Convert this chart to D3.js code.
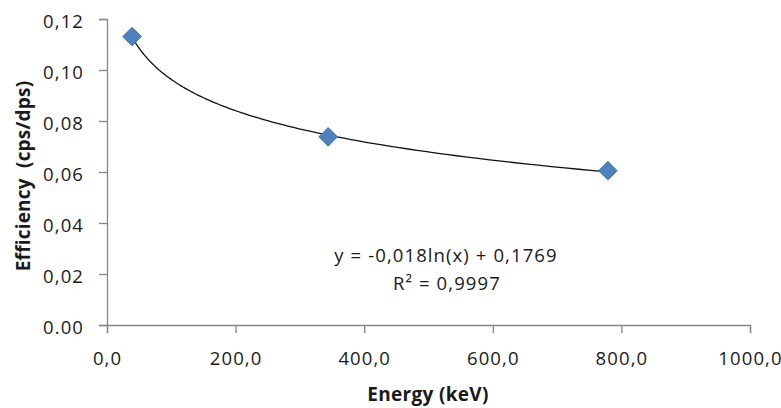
<!DOCTYPE html>
<html lang="en">
<head>
    <meta charset="UTF-8">
    <title>Efficiency vs Energy</title>
    <script src="https://cdn.jsdelivr.net/npm/d3@7"></script>
    <style>
        body { margin: 0; background: #fff; }
        text { font-family: "Open Sans", sans-serif; fill: #1a1a1a; }
    </style>
</head>
<body>
<svg width="781" height="408"></svg>
<script>
    // measured points (keV, cps/dps)
    const energy = [39, 344, 779]
    const efficiency = [0.1131, 0.0738, 0.0605]

    const xTicks = [0, 200, 400, 600, 800, 1000]
    const xTickLabels = ["0,0", "200,0", "400,0", "600,0", "800,0", "1000,0"]
    const yTicks = [0, 0.02, 0.04, 0.06, 0.08, 0.10, 0.12]
    const yTickLabels = ["0.00", "0,02", "0,04", "0,06", "0,08", "0,10", "0,12"]

    const eqLabel = "y = -0,018ln(x) + 0,1769"
    const r2Label = "R² = 0,9997"

    const svg = d3.select("svg")
    const plotLeft = 107, plotRight = 750, plotTop = 19, plotBottom = 325
    const axisColor = "#868686"
    const labelSize = 18.5, titleSize = 19

    const x = d3.scaleLinear().domain([0, 1000]).range([plotLeft, plotRight])
    const y = d3.scaleLinear().domain([0, 0.12]).range([plotBottom, plotTop])

    // y axis
    const yAxis = svg.append("g")
        .attr("transform", `translate(${plotLeft},0)`)
        .call(d3.axisLeft(y).tickValues(yTicks).tickSize(8).tickPadding(15)
            .tickFormat((d, i) => yTickLabels[i]))
    yAxis.selectAll(".tick text").attr("dy", "0.46em")
    // x axis
    const xAxis = svg.append("g")
        .attr("transform", `translate(0,${plotBottom})`)
        .call(d3.axisBottom(x).tickValues(xTicks).tickSize(8).tickPadding(19)
            .tickFormat((d, i) => xTickLabels[i]))

    for (const g of [xAxis, yAxis]) {
        g.select(".domain").attr("stroke", axisColor).attr("stroke-width", 1.3)
        g.selectAll(".tick line").attr("stroke", axisColor).attr("stroke-width", 1.3)
        g.selectAll(".tick text")
            .attr("font-size", labelSize)
            .attr("font-family", "Open Sans")
            .attr("letter-spacing", 1.1)
            .attr("fill", "#1a1a1a")
    }

    // log trendline fitted by least squares (like the spreadsheet trendline)
    const lx = energy.map(Math.log)
    const mx = d3.mean(lx), my = d3.mean(efficiency)
    const slope = d3.sum(lx, (v, i) => (v - mx) * (efficiency[i] - my)) / d3.sum(lx, v => (v - mx) ** 2)
    const icpt = my - slope * mx
    const [x0, x1] = d3.extent(energy)
    const curve = d3.range(0, 101).map(k => {
        const e = x0 * Math.pow(x1 / x0, k / 100)
        return [e, slope * Math.log(e) + icpt]
    })

    svg.append("path")
        .datum(curve)
        .attr("fill", "none")
        .attr("stroke", "#111")
        .attr("stroke-width", 1.3)
        .attr("d", d3.line().x(d => x(d[0])).y(d => y(d[1])))

    const diamond = d3.symbol().type(d3.symbolSquare).size(175)
    svg.selectAll(".pt")
        .data(energy)
        .join("path")
        .attr("class", "pt")
        .attr("transform", (d, i) => `translate(${x(d)},${y(efficiency[i])}) rotate(45)`)
        .attr("d", diamond)
        .attr("fill", "#4f81bd")
        .attr("stroke", "#3e6fae")
        .attr("stroke-width", 0.8)

    // equation labels
    svg.append("text")
        .attr("x", 446).attr("y", 262)
        .attr("text-anchor", "middle")
        .attr("font-size", labelSize)
        .attr("letter-spacing", 1.1)
        .text(eqLabel)
    svg.append("text")
        .attr("x", 447).attr("y", 290)
        .attr("text-anchor", "middle")
        .attr("font-size", labelSize)
        .attr("letter-spacing", 1.1)
        .text(r2Label)

    // axis titles
    svg.append("text")
        .attr("x", 428).attr("y", 401)
        .attr("text-anchor", "middle")
        .attr("font-size", titleSize)
        .attr("font-weight", "bold")
        .attr("letter-spacing", 0.3)
        .text("Energy (keV)")
    svg.append("text")
        .attr("transform", "translate(30,176) rotate(-90)")
        .attr("text-anchor", "middle")
        .attr("font-size", titleSize)
        .attr("font-weight", "bold")
        .attr("letter-spacing", 0.2)
        .style("white-space", "pre")
        .text("Efficiency  (cps/dps)")
</script>
</body>
</html>
